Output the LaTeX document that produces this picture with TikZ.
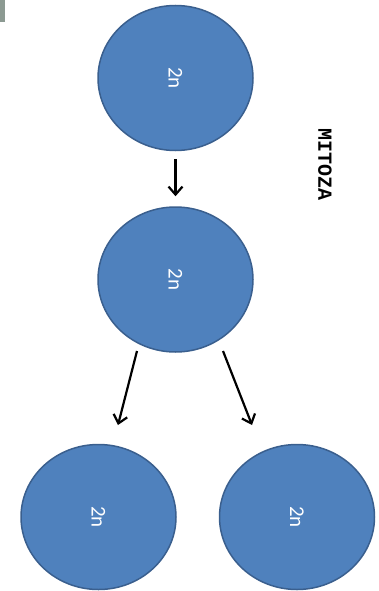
\documentclass[tikz,border=0pt]{standalone}
\usepackage{fontspec}
\setmainfont{Carlito}
\newfontfamily\monob{Liberation Mono}
\usetikzlibrary{shapes.geometric,arrows.meta}
\definecolor{cellfill}{HTML}{4F81BD}
\definecolor{celledge}{HTML}{3A5F8E}
\definecolor{tabgray}{HTML}{8C9A92}
\tikzset{
  cell/.style={ellipse, fill=cellfill, draw=celledge, line width=1.5pt,
    minimum width=155pt, minimum height=145pt, inner sep=0pt,
    text=white, font=\fontsize{21}{21}\selectfont},
  arr/.style={-{Straight Barb[length=8pt,width=14pt]}, line width=2.2pt, black}
}
\begin{document}
\begin{tikzpicture}[x=1pt,y=-1pt]
\useasboundingbox (0,0) rectangle (378,591);
\fill[tabgray] (0,0) rectangle (5,22);
\node[cell] (top) at (175.5,78) {\rotatebox{-90}{2n}};
\node[cell] (mid) at (175.5,279.5) {\rotatebox{-90}{2n}};
\node[cell] (left) at (98.5,517) {\rotatebox{-90}{2n}};
\node[cell] (right) at (297,517) {\rotatebox{-90}{2n}};
\node[font=\monob\bfseries\fontsize{20}{20}\selectfont, rotate=-90] (label) at (325,165) {MITOZA};
\draw[arr, shorten <=8pt, shorten >=10pt] (top) -- (mid);
\coordinate (lstart) at (137,351);
\coordinate (rstart) at (223,351);
\coordinate (lend) at (118,425);
\coordinate (rend) at (252,425);
\draw[arr] (lstart) -- (lend);
\draw[arr] (rstart) -- (rend);
\end{tikzpicture}
\end{document}
